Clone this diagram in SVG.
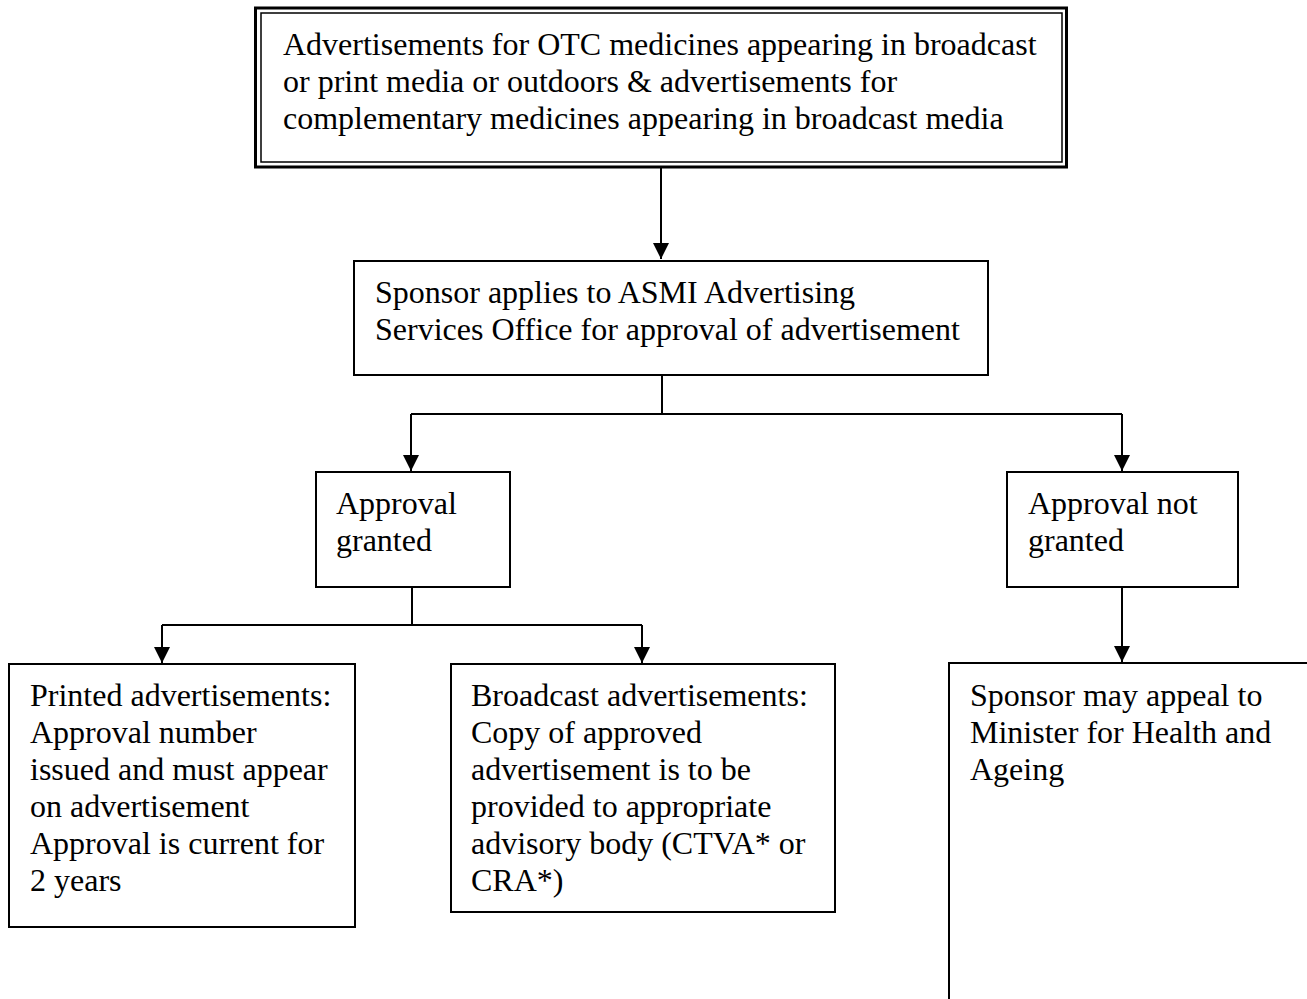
<svg xmlns="http://www.w3.org/2000/svg" width="1307" height="999" viewBox="0 0 1307 999">
<style>
.box{fill:#fff;stroke:#000;stroke-width:2}
.t{font-family:"Liberation Serif","Times New Roman",serif;font-size:32px;fill:#000}
.c{fill:none;stroke:#000;stroke-width:2}
</style>
<defs>
<marker id="ah" viewBox="0 0 10 10" refX="10" refY="5" markerWidth="16" markerHeight="16" markerUnits="userSpaceOnUse" orient="auto">
<path d="M0,0 L10,5 L0,10 z" fill="#000"/>
</marker>
</defs>
<rect width="1307" height="999" fill="#fff"/>
<g id="connectors">
<path class="c" d="M661,167 V259" marker-end="url(#ah)"/>
<path class="c" d="M662,375 V414 M411,414 H1122"/>
<path class="c" d="M411,414 V471" marker-end="url(#ah)"/>
<path class="c" d="M1122,414 V471" marker-end="url(#ah)"/>
<path class="c" d="M412,587 V625 M162,625 H642"/>
<path class="c" d="M162,625 V663" marker-end="url(#ah)"/>
<path class="c" d="M642,625 V663" marker-end="url(#ah)"/>
<path class="c" d="M1122,587 V662" marker-end="url(#ah)"/>
</g>
<g id="n-top">
<rect x="255.5" y="8" width="811" height="159" fill="#fff" stroke="#000" stroke-width="3"/>
<rect x="261" y="13" width="801" height="149" fill="none" stroke="#000" stroke-width="1.5"/>
<text class="t" x="283" y="55">Advertisements for OTC medicines appearing in broadcast</text>
<text class="t" x="283" y="92">or print media or outdoors &amp; advertisements for</text>
<text class="t" x="283" y="129">complementary medicines appearing in broadcast media</text>
</g>
<g id="n-apply">
<rect class="box" x="354" y="261" width="634" height="114"/>
<text class="t" x="375" y="303">Sponsor applies to ASMI Advertising</text>
<text class="t" x="375" y="340">Services Office for approval of advertisement</text>
</g>
<g id="n-granted">
<rect class="box" x="316" y="472" width="194" height="115"/>
<text class="t" x="336" y="514">Approval</text>
<text class="t" x="336" y="551">granted</text>
</g>
<g id="n-notgranted">
<rect class="box" x="1007" y="472" width="231" height="115"/>
<text class="t" x="1028" y="514">Approval not</text>
<text class="t" x="1028" y="551">granted</text>
</g>
<g id="n-printed">
<rect class="box" x="9" y="664" width="346" height="263"/>
<text class="t" x="30" y="706">Printed advertisements:</text>
<text class="t" x="30" y="743">Approval number</text>
<text class="t" x="30" y="780">issued and must appear</text>
<text class="t" x="30" y="817">on advertisement</text>
<text class="t" x="30" y="854">Approval is current for</text>
<text class="t" x="30" y="891">2 years</text>
</g>
<g id="n-broadcast">
<rect class="box" x="451" y="664" width="384" height="248"/>
<text class="t" x="471" y="706">Broadcast advertisements:</text>
<text class="t" x="471" y="743">Copy of approved</text>
<text class="t" x="471" y="780">advertisement is to be</text>
<text class="t" x="471" y="817">provided to appropriate</text>
<text class="t" x="471" y="854">advisory body (CTVA* or</text>
<text class="t" x="471" y="891">CRA*)</text>
</g>
<g id="n-appeal">
<path class="c" d="M949,999 V663 H1307"/>
<text class="t" x="970" y="706">Sponsor may appeal to</text>
<text class="t" x="970" y="743">Minister for Health and</text>
<text class="t" x="970" y="780">Ageing</text>
</g>
</svg>
